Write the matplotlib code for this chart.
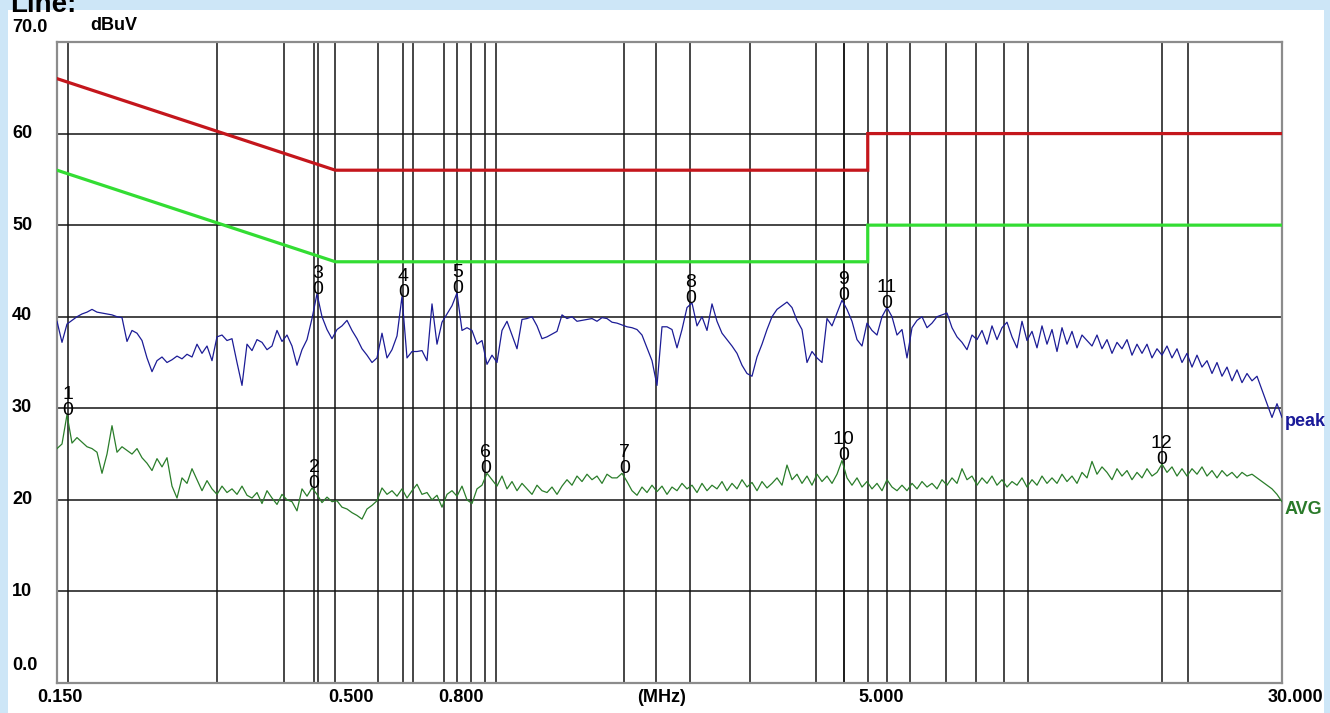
import numpy as np
import matplotlib
matplotlib.use("Agg")
import matplotlib.pyplot as plt
from matplotlib.patches import Rectangle
import matplotlib.transforms as mtransforms
from matplotlib.ticker import NullLocator

# ---------------- data ----------------
f_start, f_stop = 0.15, 30.0
n_points = 246

peak_level = [
    39.5, 37.2, 39.2, 39.6, 40.0, 40.3, 40.5, 40.8, 40.5, 40.4,
    40.3, 40.2, 40.0, 39.9, 37.3, 38.5, 38.2, 37.4, 35.5, 34.0,
    35.2, 35.6, 35.0, 35.3, 35.7, 35.4, 35.9, 35.6, 37.0, 36.0,
    36.8, 35.2, 37.8, 38.0, 37.4, 37.6, 35.0, 32.5, 37.0, 36.3,
    37.5, 37.2, 36.4, 36.8, 38.5, 37.3, 38.0, 36.8, 34.7, 36.4,
    37.5, 39.8, 42.5, 40.0, 38.6, 37.6, 38.6, 39.0, 39.6, 38.5,
    37.6, 36.5, 35.8, 35.0, 35.5, 38.2, 35.5, 36.4, 37.9, 42.2,
    35.5, 36.2, 36.2, 36.3, 35.2, 41.4, 37.0, 39.4, 40.3, 41.2,
    42.6, 38.5, 38.8, 38.5, 37.0, 37.4, 34.8, 35.8, 35.0, 38.5,
    39.5, 38.0, 36.5, 39.7, 39.8, 40.0, 39.0, 37.6, 37.8, 38.1,
    38.4, 40.2, 39.8, 40.0, 39.5, 39.6, 39.7, 39.8, 39.5, 39.9,
    39.8, 39.4, 39.3, 39.1, 38.9, 38.8, 38.6, 38.0, 36.6, 35.2,
    32.5, 38.9, 38.9, 38.6, 36.6, 38.6, 41.0, 41.5, 39.0, 40.0,
    38.5, 41.4, 39.5, 38.2, 37.5, 36.8, 36.0, 34.7, 33.8, 33.5,
    35.6, 37.0, 38.6, 40.0, 40.8, 41.2, 41.6, 41.0, 39.6, 38.6,
    35.0, 36.2, 35.5, 35.0, 39.8, 39.0, 40.4, 41.8, 40.8, 39.5,
    37.5, 36.8, 39.3, 38.5, 38.0, 40.0, 41.0, 40.0, 38.0, 38.6,
    35.5, 38.8, 39.6, 40.0, 38.8, 39.3, 40.0, 40.2, 40.4, 38.8,
    37.8, 37.2, 36.4, 38.0, 37.5, 38.5, 37.0, 39.0, 37.5, 38.8,
    39.4, 37.8, 36.6, 39.5, 37.4, 38.4, 36.6, 39.0, 37.0, 38.6,
    36.2, 38.8, 37.0, 38.4, 36.6, 38.0, 37.4, 36.8, 38.0, 36.5,
    37.5, 36.0, 37.2, 36.5, 37.5, 35.8, 37.0, 36.0, 37.0, 35.5,
    36.5, 35.8, 36.8, 35.5, 36.5, 35.0, 36.0, 34.5, 35.8, 34.5,
    35.2, 33.8, 35.0, 33.5, 34.5, 33.0, 34.2, 32.8, 33.8, 33.0,
    33.5, 32.0, 30.5, 29.0, 30.5, 29.0]

avg_level = [
    25.6, 26.1, 29.3, 26.2, 26.8, 26.3, 25.8, 25.6, 25.2, 22.9,
    25.0, 28.1, 25.2, 25.8, 25.4, 25.0, 25.6, 24.6, 24.0, 23.2,
    24.5, 23.6, 24.6, 21.5, 20.2, 22.4, 21.8, 23.4, 22.2, 21.0,
    22.1, 21.2, 20.6, 21.5, 20.8, 21.2, 20.6, 21.5, 20.5, 20.2,
    20.8, 19.6, 21.0, 20.2, 19.5, 20.6, 20.0, 19.8, 18.8, 21.2,
    20.4, 21.3, 20.6, 19.7, 20.3, 19.8, 19.9, 19.2, 19.0, 18.6,
    18.3, 17.9, 19.0, 19.4, 19.9, 21.3, 20.6, 21.0, 20.4, 21.2,
    20.2, 21.0, 21.7, 20.6, 20.8, 20.0, 20.5, 19.2, 20.6, 21.0,
    20.4, 21.5, 20.0, 19.6, 21.2, 21.6, 22.9, 22.2, 21.5, 22.6,
    21.2, 22.0, 21.0, 21.8, 21.2, 20.6, 21.6, 21.0, 20.8, 21.4,
    20.6, 21.5, 22.2, 21.6, 22.6, 22.0, 22.8, 22.2, 22.6, 21.8,
    22.8, 22.4, 22.4, 22.9, 22.0, 21.0, 20.5, 21.4, 20.8, 21.6,
    20.9, 21.5, 20.6, 21.4, 21.0, 21.8, 21.2, 21.6, 20.8, 21.8,
    21.0, 21.6, 21.2, 22.0, 21.0, 21.8, 21.2, 22.2, 21.4, 21.9,
    21.0, 22.0, 21.3, 21.8, 22.4, 21.6, 23.8, 22.2, 22.8, 21.8,
    22.6, 21.6, 22.8, 22.0, 22.6, 21.8, 22.8, 24.3, 22.4, 21.6,
    22.4, 21.4, 22.0, 21.2, 21.8, 21.0, 22.2, 21.4, 21.0, 21.6,
    21.0, 21.8, 21.2, 22.0, 21.4, 21.8, 21.2, 22.2, 21.6, 22.4,
    21.8, 23.4, 22.2, 22.6, 21.6, 22.4, 21.8, 22.6, 21.6, 22.2,
    21.4, 22.0, 21.6, 22.4, 21.4, 22.2, 21.6, 22.6, 21.8, 22.4,
    21.8, 22.8, 22.0, 22.6, 21.8, 23.0, 22.4, 24.2, 22.8, 23.6,
    23.0, 22.2, 23.4, 22.6, 23.2, 22.2, 23.0, 22.4, 23.4, 22.6,
    23.0, 23.9, 23.0, 23.6, 22.6, 23.4, 22.6, 23.4, 22.8, 23.6,
    22.6, 23.2, 22.4, 23.2, 22.6, 23.0, 22.4, 23.0, 22.6, 22.8,
    22.4, 22.0, 21.6, 21.2, 20.6, 19.8]

# limit lines (MHz, dBuV)
qp_limit_freq = [0.15, 0.5, 5.0, 5.0, 30.0]
qp_limit_level = [66, 56, 56, 60, 60]
av_limit_freq = [0.15, 0.5, 5.0, 5.0, 30.0]
av_limit_level = [56, 46, 46, 50, 50]

# markers
marker_num = ["1", "2", "3", "4", "5", "6", "7", "8", "9", "10", "11", "12"]
marker_freq = [0.157, 0.456, 0.464, 0.671, 0.847, 0.957, 1.745, 2.322, 4.503, 4.503, 5.424, 17.84]
marker_level = [29.3, 21.3, 42.5, 42.2, 42.6, 22.9, 22.9, 41.5, 41.8, 24.3, 41.0, 23.9]

grid_freq = [0.3, 0.4, 0.5, 0.6, 0.7, 0.8, 0.9, 1, 2, 3, 4, 5, 6, 7, 8, 9, 10, 20]
grid_level = [10, 20, 30, 40, 50, 60]

ytick_labels = ["70.0", "60", "50", "40", "30", "20", "10", "0.0"]
xtick_labels = ["0.150", "0.500", "0.800", "(MHz)", "5.000", "30.000"]

freq = np.geomspace(f_start, f_stop, n_points)

# ---------------- figure ----------------
W, H = 1330, 713
fig = plt.figure(figsize=(W / 100, H / 100), dpi=100, facecolor="#cde6f7")
panel = Rectangle((8 / W, 0), (1324 - 8) / W, (H - 10) / H,
                  transform=fig.transFigure, facecolor="white",
                  edgecolor="none", zorder=-5)
fig.patches.append(panel)

ax = fig.add_axes([57 / W, 1 - 683 / H, 1225 / W, 641 / H], zorder=2)
ax.set_facecolor("white")
ax.set_xscale("log")
ax.set_xlim(f_start, f_stop)
ax.set_ylim(0, 70)
ax.xaxis.set_major_locator(NullLocator())
ax.xaxis.set_minor_locator(NullLocator())
ax.yaxis.set_major_locator(NullLocator())
ax.yaxis.set_minor_locator(NullLocator())
for s in ax.spines.values():
    s.set_color("#8c8c8c")
    s.set_linewidth(1.6)

for f in grid_freq + marker_freq:
    ax.axvline(f, color="#141414", lw=1.1, zorder=1)
for g in grid_level:
    ax.axhline(g, color="#141414", lw=1.1, zorder=1)

ax.plot(qp_limit_freq, qp_limit_level, color="#c4161c", lw=2.3, zorder=3,
        solid_joinstyle="miter")
ax.plot(av_limit_freq, av_limit_level, color="#33dd33", lw=2.3, zorder=3,
        solid_joinstyle="miter")

ax.plot(freq, peak_level, color="#1c1c96", lw=0.9, zorder=4)
ax.plot(freq, avg_level, color="#2a7d2a", lw=0.9, zorder=4)

lab_font = dict(family=["Liberation Sans", "DejaVu Sans"], fontsize=14)
num_tr = mtransforms.offset_copy(ax.transData, fig=fig, x=0, y=16, units="dots")
for n, f, lv in zip(marker_num, marker_freq, marker_level):
    ax.text(f, lv, "0", ha="center", va="baseline", color="black", zorder=6, **lab_font)
    ax.text(f, lv, n, ha="center", va="baseline", color="black", zorder=6,
            transform=num_tr, **lab_font)

bold = dict(family=["Liberation Sans", "DejaVu Sans"], fontsize=13, fontweight="bold")

ytick_y = [27, 134, 225, 316, 408, 500, 591, 665]
for lab, yp in zip(ytick_labels, ytick_y):
    fig.text(12 / W, 1 - yp / H, lab, ha="left", va="center", color="black", **bold)
fig.text(90 / W, 1 - 25 / H, "dBuV", ha="left", va="center", color="black", **bold)

xtick_x = [60, 351, 461, 662, 881, 1295]
for lab, xp in zip(xtick_labels, xtick_x):
    fig.text(xp / W, 1 - 697 / H, lab, ha="center", va="center", color="black", **bold)

fig.text(1285 / W, 1 - 422 / H, "peak", ha="left", va="center", color="#1a1a99", **bold)
fig.text(1285 / W, 1 - 510 / H, "AVG", ha="left", va="center", color="#2a7a2a", **bold)

fig.text(10 / W, 1 - 12 / H, "Line:", ha="left", va="baseline", color="black",
         family=["Liberation Sans", "DejaVu Sans"], fontsize=20, fontweight="bold")

fig.savefig("out.png", dpi=100, facecolor=fig.get_facecolor())
